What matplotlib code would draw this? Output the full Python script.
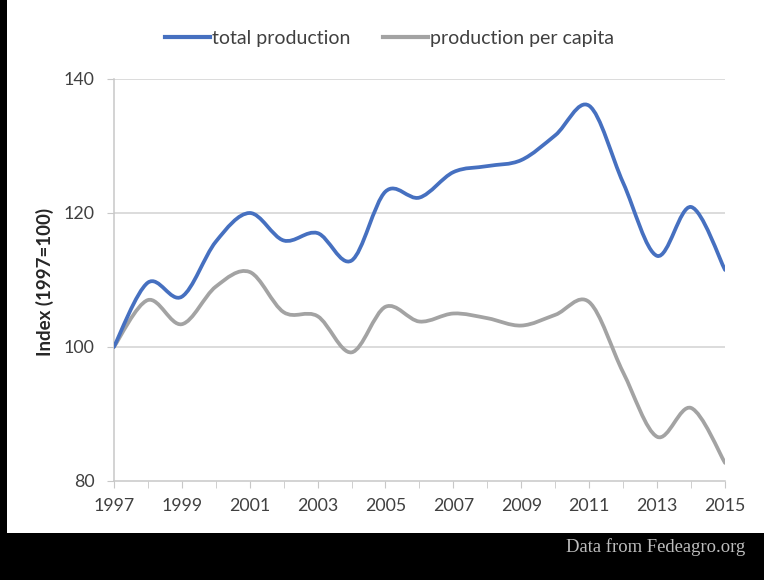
import numpy as np
import matplotlib
matplotlib.use("Agg")
import matplotlib.pyplot as plt
from matplotlib.path import Path
from matplotlib.patches import PathPatch, Rectangle
from matplotlib.lines import Line2D

plt.rcParams["font.family"] = ["Lato", "DejaVu Sans"]

# ── Datos (índice 1997=100) ─────────────────────────────────────────────────
years = [1997, 1998, 1999, 2000, 2001, 2002, 2003, 2004, 2005, 2006,
         2007, 2008, 2009, 2010, 2011, 2012, 2013, 2014, 2015]
total_production = [100, 109.6, 107.5, 115.7, 120.0, 115.9, 117.0, 112.9, 123.2, 122.3,
                    126.1, 127.0, 127.9, 131.6, 136.0, 124.5, 113.6, 120.9, 111.5]
per_capita = [100, 107.0, 103.4, 109.0, 111.2, 105.2, 104.6, 99.2, 106.0, 103.8,
              105.0, 104.3, 103.2, 104.8, 106.7, 96.2, 86.6, 90.9, 82.7]

year_ticks = list(range(1997, 2016, 2))
y_ticks = [80, 100, 120, 140]

BLUE = "#4670c0"
GRAY = "#a3a3a3"
TXT = "#404040"


def smooth_path(xs, ys):
    # curva suavizada tipo Excel: Bezier cúbica con tangentes Catmull-Rom
    pts = np.column_stack([xs, ys]).astype(float)
    n = len(pts)
    verts = [pts[0]]
    codes = [Path.MOVETO]
    for i in range(n - 1):
        p0 = pts[i - 1] if i > 0 else pts[i]
        p1, p2 = pts[i], pts[i + 1]
        p3 = pts[i + 2] if i + 2 < n else pts[i + 1]
        c1 = p1 + (p2 - p0) / 6.0
        c2 = p2 - (p3 - p1) / 6.0
        verts += [c1, c2, p2]
        codes += [Path.CURVE4] * 3
    return Path(verts, codes)


fig = plt.figure(figsize=(7.64, 5.80), dpi=100)
fig.patch.set_facecolor("white")

ax = fig.add_axes([0.149, 0.1707, 0.800, 0.6931])
ax.set_xlim(1997, 2015)
ax.set_ylim(80, 140)

for serie, color in [(per_capita, GRAY), (total_production, BLUE)]:
    patch = PathPatch(smooth_path(years, serie), facecolor="none", edgecolor=color,
                      lw=2.7, capstyle="round", joinstyle="round", zorder=3)
    ax.add_patch(patch)

ax.set_yticks(y_ticks)
ax.set_xticks(year_ticks)
ax.set_xticks(years, minor=True)
ax.tick_params(axis="y", length=5, color="#c8c8c8", pad=9, labelsize=12.8, labelcolor=TXT)
ax.tick_params(axis="x", which="both", length=5, color="#c8c8c8", pad=7,
               labelsize=12.8, labelcolor=TXT)
for v in y_ticks[1:]:
    ax.axhline(v, color="#d2d2d2", lw=1.1, zorder=1)
ax.spines[["top", "right"]].set_visible(False)
for s in ["left", "bottom"]:
    ax.spines[s].set_color("#c8c8c8")
    ax.spines[s].set_linewidth(1.1)

fig.text(0.059, 0.514, "Index (1997=100)", rotation=90, ha="center", va="center",
         fontsize=13.5, fontweight="bold", color="#262626")

handles = [Line2D([], [], color=BLUE, lw=3), Line2D([], [], color=GRAY, lw=3)]
fig.legend(handles, ["total production", "production per capita"], loc="center",
           bbox_to_anchor=(0.51, 0.934), ncol=2, frameon=False, fontsize=14,
           handlelength=2.3, handletextpad=0.1, columnspacing=1.7, labelcolor=TXT)

# marco negro: franja izquierda y barra inferior con la fuente
fig.add_artist(Rectangle((0, 0), 7 / 764, 1, transform=fig.transFigure,
                         facecolor="black", edgecolor="none", zorder=5))
fig.add_artist(Rectangle((0, 0), 1, 47 / 580, transform=fig.transFigure,
                         facecolor="black", edgecolor="none", zorder=5))
fig.text(0.975, 0.057, "Data from Fedeagro.org", ha="right", va="center",
         fontsize=13.4, color="#bdbdbd", family=["Liberation Serif", "DejaVu Serif"],
         zorder=6)

fig.savefig("out.png", dpi=100)
